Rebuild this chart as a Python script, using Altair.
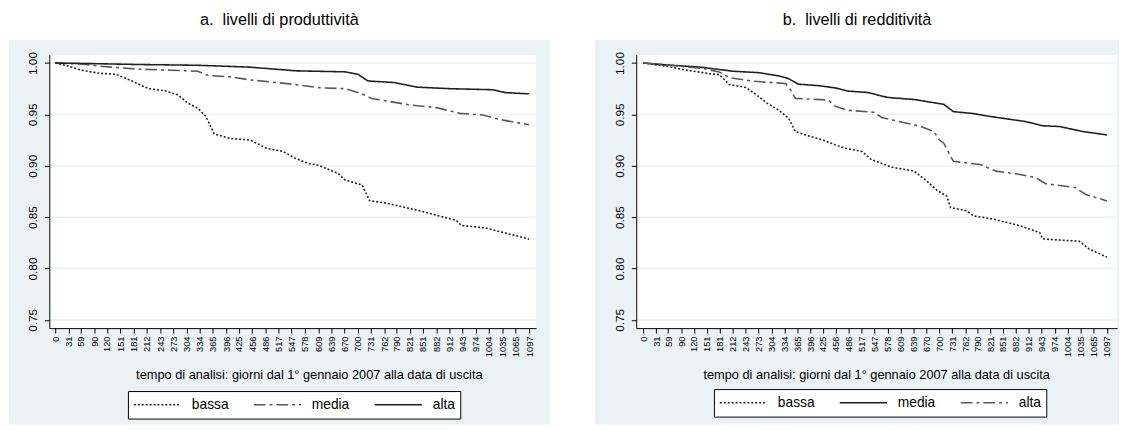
import altair as alt
import pandas as pd

FONT = "Liberation Sans, Arial, sans-serif"
BG = "#EAF2F3"

# ---------------- data ----------------
x_ticks = [0, 31, 59, 90, 120, 151, 181, 212, 243, 273, 304, 334, 365, 396, 425,
           456, 486, 517, 547, 578, 609, 639, 670, 700, 731, 762, 790, 821, 851,
           882, 912, 943, 974, 1004, 1035, 1065, 1097]
y_ticks = [0.75, 0.80, 0.85, 0.90, 0.95, 1.00]

# panel a: livelli di produttività
a_bassa_t = [0, 30, 60, 102, 141, 175, 216, 254, 284, 307, 330, 349, 368, 406, 452,
             489, 527, 557, 588, 610, 655, 671, 710, 728, 762, 846, 929, 940, 997,
             1042, 1097]
a_bassa_s = [1.0, 0.997, 0.993, 0.990, 0.989, 0.983, 0.975, 0.973, 0.969, 0.961, 0.956,
             0.948, 0.931, 0.9265, 0.925, 0.917, 0.914, 0.907, 0.902, 0.9005, 0.8926,
             0.886, 0.8815, 0.866, 0.864, 0.856, 0.8467, 0.842, 0.8394, 0.8346, 0.8286]
a_media_t = [0, 60, 102, 193, 269, 330, 353, 406, 452, 512, 557, 610, 671, 710, 733,
             824, 883, 937, 990, 1029, 1097]
a_media_s = [1.0, 0.999, 0.997, 0.994, 0.993, 0.992, 0.988, 0.9865, 0.9835, 0.981,
             0.979, 0.976, 0.975, 0.970, 0.9655, 0.959, 0.9566, 0.951, 0.9495, 0.945,
             0.940]
a_alta_t = [0, 100, 200, 330, 450, 557, 671, 701, 724, 785, 838, 915, 1013, 1042, 1097]
a_alta_s = [1.0, 0.9993, 0.9985, 0.9978, 0.996, 0.9924, 0.9914, 0.989, 0.9825, 0.981,
            0.9765, 0.975, 0.974, 0.9712, 0.970]

# panel b: livelli di redditività
b_bassa_t = [0, 56, 103, 157, 180, 204, 243, 274, 290, 320, 344, 360, 384, 423, 454,
             477, 517, 540, 587, 641, 671, 695, 718, 727, 765, 781, 828, 891, 938, 945,
             1032, 1055, 1097]
b_bassa_s = [1.0, 0.9968, 0.993, 0.9897, 0.9887, 0.979, 0.9762, 0.9672, 0.9617, 0.9543,
             0.9462, 0.9334, 0.930, 0.9253, 0.9205, 0.9172, 0.914, 0.906, 0.8987,
             0.8948, 0.8851, 0.8761, 0.8706, 0.8594, 0.8562, 0.8513, 0.8481, 0.8417,
             0.835, 0.8288, 0.8265, 0.819, 0.8111]
b_media_t = [0, 60, 133, 213, 274, 320, 344, 367, 414, 454, 484, 531, 578, 641, 711,
             734, 781, 821, 905, 945, 985, 1039, 1097]
b_media_s = [1.0, 0.998, 0.9961, 0.992, 0.9906, 0.9875, 0.9848, 0.9794, 0.978, 0.9758,
             0.9727, 0.9713, 0.9665, 0.9645, 0.9598, 0.9527, 0.9508, 0.948, 0.943,
             0.9389, 0.9382, 0.9334, 0.930]
b_alta_t = [0, 60, 143, 180, 204, 260, 337, 349, 360, 438, 454, 484, 547, 564, 657, 688,
            700, 711, 727, 734, 797, 835, 891, 929, 952, 1022, 1046, 1097]
b_alta_s = [1.0, 0.998, 0.9945, 0.9913, 0.9858, 0.9823, 0.980, 0.9737, 0.9656, 0.964,
            0.958, 0.954, 0.952, 0.947, 0.9382, 0.9334, 0.9253, 0.922, 0.9093, 0.9044,
            0.9012, 0.8948, 0.8916, 0.8884, 0.8826, 0.8788, 0.8723, 0.8658]

levels = ["bassa", "media", "alta"]
x_title = "tempo di analisi: giorni dal 1° gennaio 2007 alla data di uscita"
title_a = "a.\u00a0 livelli di produttività"
title_b = "b.\u00a0 livelli di redditività"

DOT = [2, 2]
DASHDOT = [12, 4, 3, 4]
SOLID = [1, 0]
DARK = "#1e1e1e"
GRAY = "#595959"


def table(series):
    rows = []
    for name, (ts, ss) in series.items():
        for t, s in zip(ts, ss):
            rows.append({"livello": name, "t": t, "s": s})
    return pd.DataFrame(rows)


def panel(title, series, dashes, colors, W, H, xdom, legx, legy, titlex, bg_l, bg_r):
    df = table(series)
    xs = alt.Scale(domain=xdom, nice=False, zero=False)
    ys = alt.Scale(domain=[0.742, 1.008], nice=False, zero=False)
    yaxis = alt.Axis(values=y_ticks, format=".2f", grid=False, labelAngle=270,
                     labelAlign="center", labelBaseline="bottom", labelPadding=5,
                     labelFontSize=12, labelFont=FONT, labelColor="black",
                     tickSize=5, tickColor="black", domainColor="black", title=None,
                     zindex=1)
    xaxis = alt.Axis(values=x_ticks, format="d", grid=False, labelAngle=270,
                     labelAlign="right", labelBaseline="middle", labelFontSize=9.5,
                     labelFont=FONT, labelColor="black", labelPadding=3,
                     labelOverlap=False, tickSize=5, tickColor="black",
                     domainColor="black",
                     title=x_title, titleFont=FONT, titleFontSize=13,
                     titleFontWeight="normal", titleColor="black",
                     titleX=titlex, titleY=51, titleAlign="center",
                     titleBaseline="alphabetic", zindex=1)
    one = pd.DataFrame({"k": [0]})
    bg = alt.Chart(one).mark_rect(color=BG).encode(
        x=alt.value(bg_l), x2=alt.value(bg_r), y=alt.value(-15), y2=alt.value(376))
    white = alt.Chart(one).mark_rect(color="white").encode(
        x=alt.value(0), x2=alt.value(W), y=alt.value(0), y2=alt.value(H))
    grid = alt.Chart(pd.DataFrame({"v": y_ticks})).mark_rule(
        color=BG, strokeWidth=1.5).encode(y=alt.Y("v:Q", scale=ys, axis=yaxis))
    leg = alt.Legend(title=None, orient="none", legendX=legx, legendY=legy,
                     direction="horizontal", fillColor="white", strokeColor="black",
                     padding=5, symbolType="stroke", symbolSize=2304,
                     symbolStrokeWidth=1.5, labelFontSize=14, labelFont=FONT,
                     labelColor="black", labelOffset=10, columnPadding=24,
                     clipHeight=18)
    lines = alt.Chart(df).mark_line(strokeWidth=1.6).encode(
        x=alt.X("t:Q", scale=xs, axis=xaxis),
        y=alt.Y("s:Q", scale=ys, axis=yaxis),
        color=alt.Color("livello:N", scale=alt.Scale(domain=levels, range=colors),
                        legend=leg),
        strokeDash=alt.StrokeDash("livello:N",
                                  scale=alt.Scale(domain=levels, range=dashes),
                                  legend=leg),
        order=alt.Order("t:Q"),
    )
    return alt.layer(bg, white, grid, lines).properties(
        width=W, height=H,
        title=alt.TitleParams(title, font=FONT, fontSize=16.5, fontWeight="normal",
                              color="black", anchor="middle", frame="bounds",
                              offset=12),
    )


H = 278
left = panel(title_a,
             {"bassa": (a_bassa_t, a_bassa_s), "media": (a_media_t, a_media_s),
              "alta": (a_alta_t, a_alta_s)},
             [DOT, DASHDOT, SOLID], [DARK, GRAY, DARK],
             495, H, [-13.7, 1113], 80, 342, 264, -41, 509)
right = panel(title_b,
              {"bassa": (b_bassa_t, b_bassa_s), "media": (b_media_t, b_media_s),
               "alta": (b_alta_t, b_alta_s)},
              [DOT, SOLID, DASHDOT], [DARK, DARK, GRAY],
              489, H, [-16.3, 1121], 79, 340, 244, -42, 491)

chart = alt.hconcat(left, right, spacing=102, bounds="flush").resolve_scale(
    color="independent", strokeDash="independent", x="independent", y="independent"
).resolve_legend(color="independent", strokeDash="independent").properties(
    padding={"left": 0, "top": 0, "right": 0, "bottom": 0}
).configure_view(stroke=None).configure(background="white")

chart.save("out.html", embed_options={"renderer": "svg", "actions": False})
